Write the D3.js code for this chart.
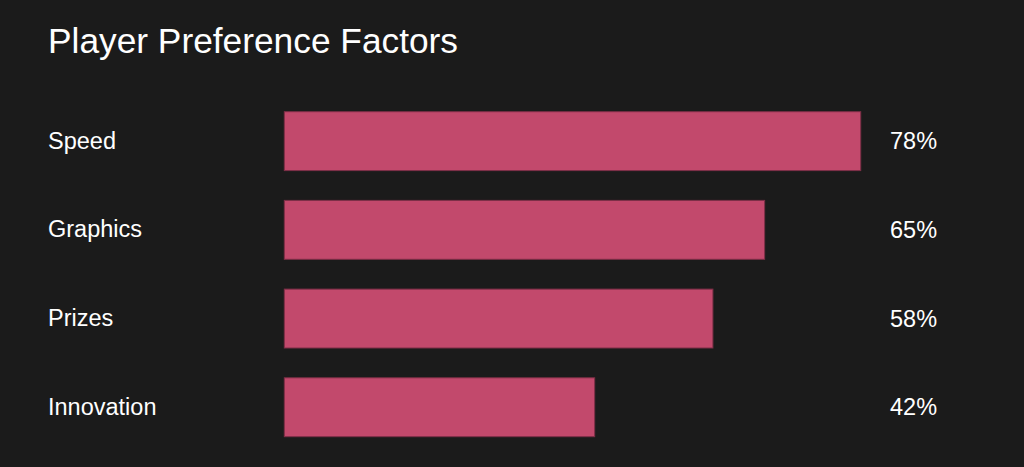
<!DOCTYPE html>
<html>
<head>
<meta charset="utf-8">
<script src="https://cdn.jsdelivr.net/npm/d3@7/dist/d3.min.js"></script>
<style>
  html, body { margin: 0; padding: 0; background: #1b1b1b; }
  svg { display: block; }
</style>
</head>
<body>
<svg id="chart" width="1024" height="467"></svg>
<script>
const title = "Player Preference Factors";
const categories = ["Speed", "Graphics", "Prizes", "Innovation"];
const values = [78, 65, 58, 42];
const valueLabels = ["78%", "65%", "58%", "42%"];

const W = 1024, H = 467;
const svg = d3.select("#chart");
const font = "'Liberation Sans', Arial, Helvetica, sans-serif";

svg.append("rect").attr("width", W).attr("height", H).attr("fill", "#1b1b1b");

svg.append("text")
  .attr("x", 48).attr("y", 52.5)
  .attr("fill", "#ffffff")
  .attr("font-family", font)
  .attr("font-size", 35.3)
  .text(title);

const x = d3.scaleLinear().domain([0, 100]).range([284.3, 1023.3]);
const y = d3.scaleBand().domain(categories).range([96.8, 451.6])
  .paddingInner(0.336).paddingOuter(0.168);

const data = categories.map((c, i) => ({ c, v: values[i], l: valueLabels[i] }));

svg.append("g").selectAll("rect").data(data).join("rect")
  .attr("x", x(0))
  .attr("y", d => y(d.c))
  .attr("width", d => x(d.v) - x(0))
  .attr("height", y.bandwidth())
  .attr("fill", "#c2496c")
  .attr("stroke", "#7d2f47")
  .attr("stroke-width", 1);

svg.append("g").selectAll("text").data(data).join("text")
  .attr("x", 48)
  .attr("y", d => y(d.c) + y.bandwidth() / 2 + 7.5)
  .attr("fill", "#ffffff")
  .attr("font-family", font)
  .attr("font-size", 23.5)
  .text(d => d.c);

svg.append("g").selectAll("text").data(data).join("text")
  .attr("x", 890)
  .attr("y", d => y(d.c) + y.bandwidth() / 2 + 8)
  .attr("fill", "#ffffff")
  .attr("font-family", font)
  .attr("font-size", 23.5)
  .text(d => d.l);
</script>
</body>
</html>
